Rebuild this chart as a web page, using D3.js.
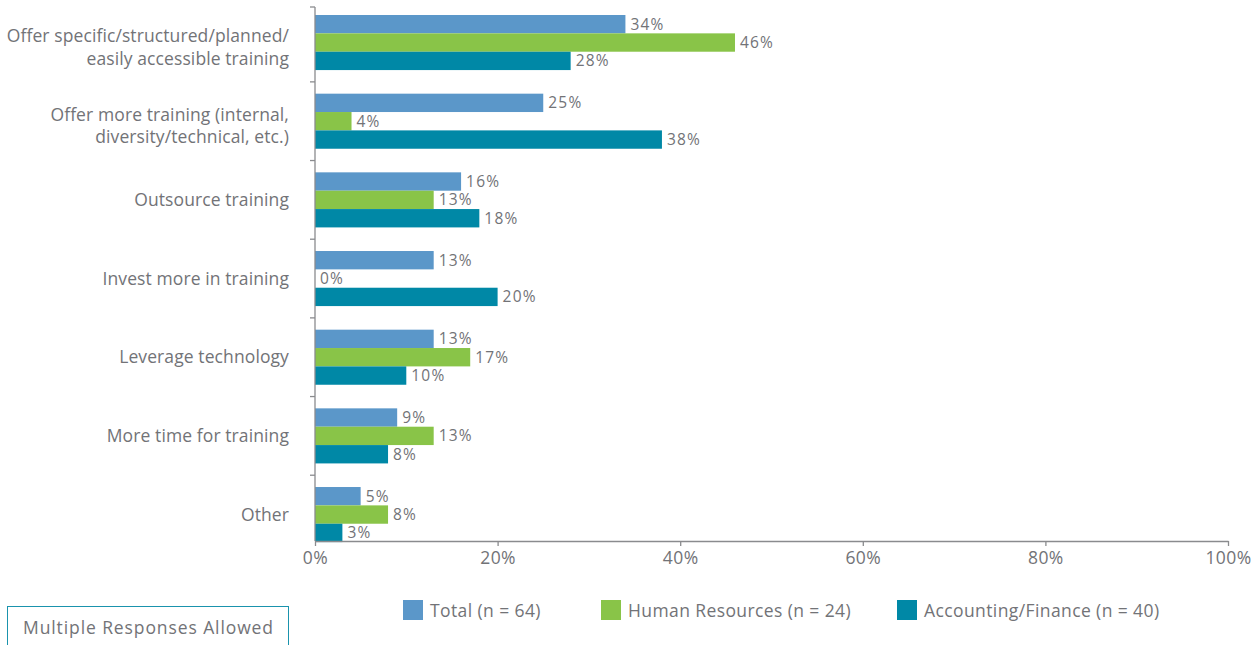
<!DOCTYPE html>
<html>
<head>
<meta charset="utf-8">
<script src="https://cdn.jsdelivr.net/npm/d3@7"></script>
<style>
  html, body { margin: 0; padding: 0; background: #fff; }
  svg { display: block; }
  text { font-family: "Open Sans", "Liberation Sans", sans-serif; fill: #727377; }
</style>
</head>
<body>
<svg id="chart" width="1254" height="645"></svg>
<script>
// Categories (multi-line labels split on "\n")
const categories = [
  "Offer specific/structured/planned/\neasily accessible training",
  "Offer more training (internal,\ndiversity/technical, etc.)",
  "Outsource training",
  "Invest more in training",
  "Leverage technology",
  "More time for training",
  "Other"
];

const seriesNames = ["Total (n = 64)", "Human Resources (n = 24)", "Accounting/Finance (n = 40)"];
const seriesColors = ["#5b97c9", "#89c448", "#0088a6"];

// Percent of respondents per category
const totalValues   = [34, 25, 16, 13, 13, 9, 5];
const hrValues      = [46, 4, 13, 0, 17, 13, 8];
const financeValues = [28, 38, 18, 20, 10, 8, 3];

const xTicks = [0, 20, 40, 60, 80, 100];
const noteText = "Multiple Responses Allowed";

const seriesValues = [totalValues, hrValues, financeValues];

const svg = d3.select("#chart");

const axisTop = 7, axisBottom = 541;
const x = d3.scaleLinear().domain([0, 100]).range([315, 1228]);

const y = d3.scaleBand()
  .domain(categories)
  .range([3.2, 3.2 + 7 * 78.67])
  .paddingInner(0.3)
  .paddingOuter(0.15);

const sub = d3.scaleBand()
  .domain(d3.range(seriesNames.length))
  .range([0, y.bandwidth()])
  .padding(0);

// Bars with value labels
const groups = svg.append("g").selectAll("g")
  .data(categories)
  .join("g")
  .attr("transform", c => `translate(0,${y(c)})`);

groups.each(function(c, ci) {
  const g = d3.select(this);
  seriesValues.forEach((vals, si) => {
    const v = vals[ci];
    g.append("rect")
      .attr("x", x(0))
      .attr("y", sub(si))
      .attr("width", x(v) - x(0))
      .attr("height", sub.bandwidth())
      .attr("fill", seriesColors[si]);
    g.append("text")
      .attr("x", x(v) + 5)
      .attr("y", sub(si) + sub.bandwidth() / 2)
      .attr("dy", "0.35em")
      .attr("font-size", 15.5)
      .attr("letter-spacing", 1.2)
      .text(v + "%");
  });
});

// Category labels
const labels = svg.append("g").selectAll("text")
  .data(categories)
  .join("text")
  .attr("x", 289)
  .attr("text-anchor", "end")
  .attr("font-size", 17.5)
  .attr("letter-spacing", 0.1);

labels.each(function(c) {
  const lines = c.split("\n");
  const cy = y(c) + y.bandwidth() / 2;
  const t = d3.select(this);
  if (lines.length === 1) {
    t.append("tspan").attr("x", 289).attr("y", cy).attr("dy", "0.35em").text(lines[0]);
  } else {
    lines.forEach((ln, i) => {
      t.append("tspan").attr("x", 289).attr("y", cy - 6.5 + i * 22.5).attr("dy", "0.35em").text(ln);
    });
  }
});

// Y axis line and category separators
const axisColor = "#8a8b8e";
svg.append("line")
  .attr("x1", x(0)).attr("x2", x(0))
  .attr("y1", axisTop).attr("y2", axisBottom)
  .attr("stroke", axisColor).attr("stroke-width", 1.3);

const gap = y.step() * y.paddingInner();
const sepY = [axisTop].concat(categories.slice(1).map(c => y(c) - gap / 2));
svg.append("g").selectAll("line")
  .data(sepY)
  .join("line")
  .attr("x1", x(0) - 5).attr("x2", x(0))
  .attr("y1", d => d).attr("y2", d => d)
  .attr("stroke", axisColor).attr("stroke-width", 1.3);

// X axis
const xAxis = d3.axisBottom(x)
  .tickValues(xTicks)
  .tickFormat(d => d + "%")
  .tickSize(5)
  .tickSizeOuter(0)
  .tickPadding(6);

const gx = svg.append("g")
  .attr("transform", `translate(0,${axisBottom})`)
  .call(xAxis);
gx.select(".domain").attr("stroke", axisColor).attr("stroke-width", 1.3);
gx.selectAll(".tick line").attr("stroke", axisColor).attr("stroke-width", 1.3);
gx.selectAll(".tick text")
  .attr("font-size", 17.5)
  .attr("letter-spacing", 0.4)
  .attr("font-family", '"Open Sans", "Liberation Sans", sans-serif')
  .attr("fill", "#727377");

// Legend
const legendX = [403, 601, 897];
const legend = svg.append("g").selectAll("g")
  .data(seriesNames)
  .join("g")
  .attr("transform", (d, i) => `translate(${legendX[i]},600)`);
legend.append("rect")
  .attr("width", 20).attr("height", 20)
  .attr("fill", (d, i) => seriesColors[i]);
legend.append("text")
  .attr("x", 27).attr("y", 11).attr("dy", "0.35em")
  .attr("font-size", 17.5)
  .attr("letter-spacing", 0.4)
  .text(d => d);

// Note box
svg.append("rect")
  .attr("x", 7.5).attr("y", 606.5)
  .attr("width", 281).attr("height", 45)
  .attr("fill", "none")
  .attr("stroke", "#1a93ad").attr("stroke-width", 1);
svg.append("text")
  .attr("x", 23).attr("y", 628).attr("dy", "0.35em")
  .attr("font-size", 17.5)
  .attr("letter-spacing", 0.9)
  .text(noteText);
</script>
</body>
</html>
